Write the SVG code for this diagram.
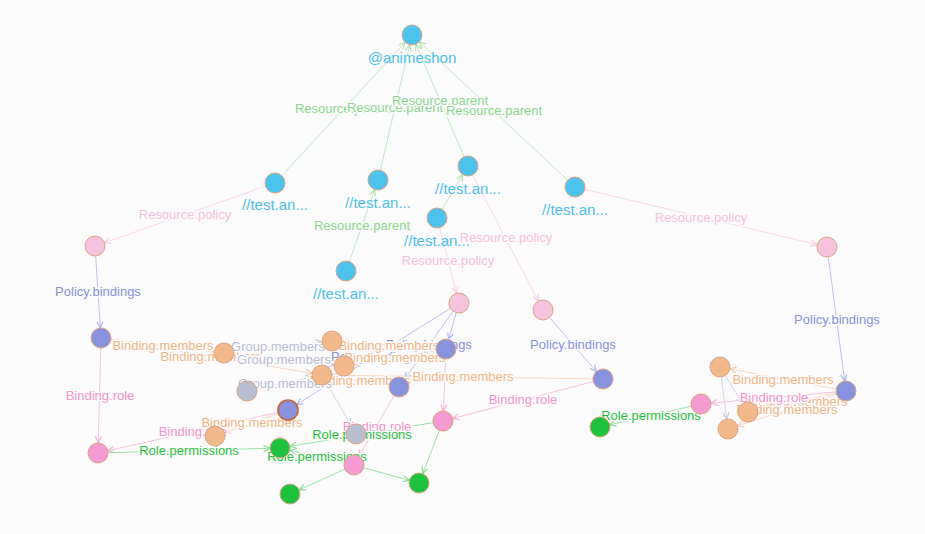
<svg xmlns="http://www.w3.org/2000/svg" width="925" height="534" viewBox="0 0 925 534">
<style>
.bg{fill:#fcfcfc}
.e{stroke-width:1;fill:none}
.parent{stroke:#c2e8c2}
.policy{stroke:#fad6e8}
.bind{stroke:#bcc2f0}
.mem{stroke:#f7d8c2}
.grp{stroke:#d3d6e6}
.role{stroke:#f8c0e0}
.perm{stroke:#9be3a7}
.mk{fill:none;stroke-width:1.1}
.lb{font-family:"Liberation Sans",Arial,sans-serif;font-size:13px;text-anchor:middle;paint-order:stroke;stroke:#fcfcfc;stroke-width:3px;stroke-linejoin:round}
.lparent{fill:#8ad68c}
.lpolicy{fill:#f6bfdc}
.lbind{fill:#8890dc}
.lmem{fill:#f0b585}
.lgrp{fill:#babed2}
.lrole{fill:#f293cc}
.lperm{fill:#1ec23c}
.n circle{stroke:#dca282;stroke-width:1}
.nl{font-family:"Liberation Sans",Arial,sans-serif;font-size:15px;text-anchor:middle;fill:#4cc0ec}
.res{fill:#4cc2ee}
.pol{fill:#f6c3df}
.bnd{fill:#8893e0}
.mbr{fill:#f2b98c}
.gp{fill:#b9bdd0}
.rl{fill:#f59ad3}
.pm{fill:#1cc23c}
</style>
<defs>
<marker id="a-parent" markerUnits="userSpaceOnUse" viewBox="0 0 8 8" markerWidth="8" markerHeight="8" refX="17" refY="4" orient="auto"><path class="mk" stroke="#acdfac" d="M0.5,1 L7,4 L0.5,7"/></marker>
<marker id="a-policy" markerUnits="userSpaceOnUse" viewBox="0 0 8 8" markerWidth="8" markerHeight="8" refX="17" refY="4" orient="auto"><path class="mk" stroke="#f6c8e0" d="M0.5,1 L7,4 L0.5,7"/></marker>
<marker id="a-bind" markerUnits="userSpaceOnUse" viewBox="0 0 8 8" markerWidth="8" markerHeight="8" refX="17" refY="4" orient="auto"><path class="mk" stroke="#a9b0ec" d="M0.5,1 L7,4 L0.5,7"/></marker>
<marker id="a-mem" markerUnits="userSpaceOnUse" viewBox="0 0 8 8" markerWidth="8" markerHeight="8" refX="17" refY="4" orient="auto"><path class="mk" stroke="#f3c8a8" d="M0.5,1 L7,4 L0.5,7"/></marker>
<marker id="a-grp" markerUnits="userSpaceOnUse" viewBox="0 0 8 8" markerWidth="8" markerHeight="8" refX="17" refY="4" orient="auto"><path class="mk" stroke="#c2c6de" d="M0.5,1 L7,4 L0.5,7"/></marker>
<marker id="a-role" markerUnits="userSpaceOnUse" viewBox="0 0 8 8" markerWidth="8" markerHeight="8" refX="17" refY="4" orient="auto"><path class="mk" stroke="#f4aad6" d="M0.5,1 L7,4 L0.5,7"/></marker>
<marker id="a-perm" markerUnits="userSpaceOnUse" viewBox="0 0 8 8" markerWidth="8" markerHeight="8" refX="17" refY="4" orient="auto"><path class="mk" stroke="#86db95" d="M0.5,1 L7,4 L0.5,7"/></marker>
</defs>
<rect class="bg" x="0" y="0" width="925" height="534"/>
<g id="connectors">
<g marker-end="url(#a-parent)" class="e parent">
<line x1="275" y1="183" x2="412" y2="35"/>
<line x1="378" y1="180" x2="412" y2="35"/>
<line x1="468" y1="166" x2="412" y2="35"/>
<line x1="575" y1="187" x2="412" y2="35"/>
<line x1="437" y1="218" x2="468" y2="166"/>
<line x1="346" y1="271" x2="378" y2="180"/>
</g>
<g marker-end="url(#a-policy)" class="e policy">
<line x1="275" y1="183" x2="95" y2="246"/>
<line x1="437" y1="218" x2="459" y2="303"/>
<line x1="468" y1="166" x2="543" y2="310"/>
<line x1="575" y1="187" x2="827" y2="247"/>
</g>
<g marker-end="url(#a-bind)" class="e bind">
<line x1="95" y1="246" x2="101" y2="338"/>
<line x1="459" y1="303" x2="446" y2="349"/>
<line x1="459" y1="303" x2="399" y2="387"/>
<line x1="459" y1="303" x2="288" y2="410"/>
<line x1="543" y1="310" x2="603" y2="379"/>
<line x1="827" y1="247" x2="846" y2="391"/>
</g>
<g marker-end="url(#a-mem)" class="e mem">
<line x1="101" y1="338" x2="224" y2="353"/>
<line x1="101" y1="338" x2="322" y2="375"/>
<line x1="446" y1="349" x2="332" y2="341"/>
<line x1="446" y1="349" x2="344" y2="366"/>
<line x1="399" y1="387" x2="322" y2="375"/>
<line x1="603" y1="379" x2="322" y2="375"/>
<line x1="288" y1="410" x2="215" y2="436"/>
<line x1="846" y1="391" x2="720" y2="367"/>
<line x1="846" y1="391" x2="748" y2="412"/>
<line x1="846" y1="391" x2="728" y2="429"/>
</g>
<g marker-end="url(#a-grp)" class="e grp">
<line x1="224" y1="353" x2="332" y2="341"/>
<line x1="224" y1="353" x2="344" y2="366"/>
<line x1="247" y1="391" x2="322" y2="375"/>
<line x1="322" y1="375" x2="356" y2="434"/>
<line x1="720" y1="367" x2="748" y2="412"/>
<line x1="720" y1="367" x2="728" y2="429"/>
</g>
<g marker-end="url(#a-role)" class="e role">
<line x1="101" y1="338" x2="98" y2="453"/>
<line x1="288" y1="410" x2="98" y2="453"/>
<line x1="399" y1="387" x2="354" y2="465"/>
<line x1="446" y1="349" x2="443" y2="421"/>
<line x1="603" y1="379" x2="443" y2="421"/>
<line x1="846" y1="391" x2="701" y2="404"/>
</g>
<g marker-end="url(#a-perm)" class="e perm">
<line x1="98" y1="453" x2="280" y2="448"/>
<line x1="443" y1="421" x2="280" y2="448"/>
<line x1="354" y1="465" x2="280" y2="448"/>
<line x1="354" y1="465" x2="290" y2="494"/>
<line x1="354" y1="465" x2="419" y2="483"/>
<line x1="443" y1="421" x2="419" y2="483"/>
<line x1="701" y1="404" x2="600" y2="427"/>
</g>
<g class="lb">
<text class="lparent" x="343" y="113">Resource.parent</text>
<text class="lparent" x="395" y="112">Resource.parent</text>
<text class="lparent" x="440" y="105">Resource.parent</text>
<text class="lparent" x="494" y="115">Resource.parent</text>
<text class="lparent" x="362" y="230">Resource.parent</text>
<text class="lpolicy" x="185" y="219">Resource.policy</text>
<text class="lpolicy" x="448" y="265">Resource.policy</text>
<text class="lpolicy" x="506" y="242">Resource.policy</text>
<text class="lpolicy" x="701" y="222">Resource.policy</text>
<text class="lbind" x="98" y="296">Policy.bindings</text>
<text class="lbind" x="429" y="349">Policy.bindings</text>
<text class="lbind" x="374" y="361">Policy.bindings</text>
<text class="lbind" x="573" y="349">Policy.bindings</text>
<text class="lbind" x="837" y="324">Policy.bindings</text>
<text class="lmem" x="163" y="350">Binding.members</text>
<text class="lmem" x="211" y="361">Binding.members</text>
<text class="lmem" x="389" y="350">Binding.members</text>
<text class="lmem" x="395" y="362">Binding.members</text>
<text class="lmem" x="360" y="385">Binding.members</text>
<text class="lmem" x="463" y="381">Binding.members</text>
<text class="lmem" x="252" y="427">Binding.members</text>
<text class="lmem" x="783" y="384">Binding.members</text>
<text class="lmem" x="797" y="406">Binding.members</text>
<text class="lmem" x="787" y="414">Binding.members</text>
<text class="lgrp" x="278" y="351">Group.members</text>
<text class="lgrp" x="284" y="364">Group.members</text>
<text class="lgrp" x="285" y="388">Group.members</text>
<text class="lrole" x="100" y="400">Binding.role</text>
<text class="lrole" x="193" y="436">Binding.role</text>
<text class="lrole" x="377" y="431">Binding.role</text>
<text class="lrole" x="523" y="404">Binding.role</text>
<text class="lrole" x="774" y="402">Binding.role</text>
<text class="lperm" x="189" y="455">Role.permissions</text>
<text class="lperm" x="362" y="439">Role.permissions</text>
<text class="lperm" x="317" y="461">Role.permissions</text>
<text class="lperm" x="651" y="420">Role.permissions</text>
</g>
</g>
<g id="nodes">
<g id="r0" class="n"><circle class="res" cx="412" cy="35" r="10"/><text class="nl" x="412" y="63">@animeshon</text></g>
<g id="r1" class="n"><circle class="res" cx="275" cy="183" r="10"/><text class="nl" x="275" y="210">//test.an...</text></g>
<g id="r2" class="n"><circle class="res" cx="378" cy="180" r="10"/><text class="nl" x="378" y="208">//test.an...</text></g>
<g id="r3" class="n"><circle class="res" cx="468" cy="166" r="10"/><text class="nl" x="468" y="194">//test.an...</text></g>
<g id="r4" class="n"><circle class="res" cx="575" cy="187" r="10"/><text class="nl" x="575" y="215">//test.an...</text></g>
<g id="r5" class="n"><circle class="res" cx="437" cy="218" r="10"/><text class="nl" x="437" y="246">//test.an...</text></g>
<g id="r6" class="n"><circle class="res" cx="346" cy="271" r="10"/><text class="nl" x="346" y="299">//test.an...</text></g>
<g id="p1" class="n"><circle class="pol" cx="95" cy="246" r="10"/></g>
<g id="p2" class="n"><circle class="pol" cx="459" cy="303" r="10"/></g>
<g id="p3" class="n"><circle class="pol" cx="543" cy="310" r="10"/></g>
<g id="p4" class="n"><circle class="pol" cx="827" cy="247" r="10"/></g>
<g id="b1" class="n"><circle class="bnd" cx="101" cy="338" r="10"/></g>
<g id="b2" class="n"><circle class="bnd" cx="446" cy="349" r="10"/></g>
<g id="b3" class="n"><circle class="bnd" cx="399" cy="387" r="10"/></g>
<g id="b4" class="n"><circle class="bnd" cx="288" cy="410" r="10" style="stroke:#c8622c;stroke-width:1.6"/></g>
<g id="b5" class="n"><circle class="bnd" cx="603" cy="379" r="10"/></g>
<g id="b6" class="n"><circle class="bnd" cx="846" cy="391" r="10"/></g>
<g id="m1" class="n"><circle class="mbr" cx="224" cy="353" r="10"/></g>
<g id="m2" class="n"><circle class="mbr" cx="332" cy="341" r="10"/></g>
<g id="m3" class="n"><circle class="mbr" cx="344" cy="366" r="10"/></g>
<g id="m4" class="n"><circle class="mbr" cx="322" cy="375" r="10"/></g>
<g id="m5" class="n"><circle class="mbr" cx="215" cy="436" r="10"/></g>
<g id="m6" class="n"><circle class="mbr" cx="720" cy="367" r="10"/></g>
<g id="m7" class="n"><circle class="mbr" cx="748" cy="412" r="10"/></g>
<g id="m8" class="n"><circle class="mbr" cx="728" cy="429" r="10"/></g>
<g id="g1" class="n"><circle class="gp" cx="247" cy="391" r="10"/></g>
<g id="g2" class="n"><circle class="gp" cx="356" cy="434" r="10"/></g>
<g id="ro1" class="n"><circle class="rl" cx="98" cy="453" r="10"/></g>
<g id="ro2" class="n"><circle class="rl" cx="443" cy="421" r="10"/></g>
<g id="ro3" class="n"><circle class="rl" cx="354" cy="465" r="10"/></g>
<g id="ro4" class="n"><circle class="rl" cx="701" cy="404" r="10"/></g>
<g id="pe1" class="n"><circle class="pm" cx="280" cy="448" r="10"/></g>
<g id="pe2" class="n"><circle class="pm" cx="290" cy="494" r="10"/></g>
<g id="pe3" class="n"><circle class="pm" cx="419" cy="483" r="10"/></g>
<g id="pe4" class="n"><circle class="pm" cx="600" cy="427" r="10"/></g>
</g>
</svg>
